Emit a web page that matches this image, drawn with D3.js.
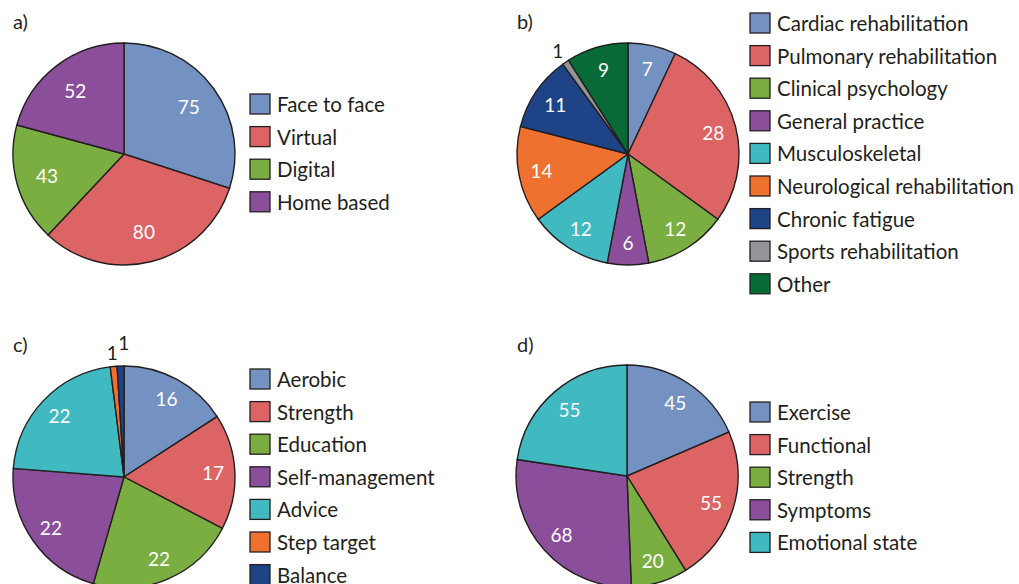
<!DOCTYPE html>
<html lang="en">
<head>
  <meta charset="UTF-8">
  <title>Pie charts a-d</title>
  <script src="https://d3js.org/d3.v7.min.js"></script>
  <style>
    body {
      margin: 0;
      padding: 0;
      background: #fff;
      font-family: Lato, "Noto Sans", sans-serif;
    }
    .slice {
      stroke: #231f20;
      stroke-width: 1.4;
    }
    .val {
      font-size: 19px;
      fill: #fff;
      text-anchor: middle;
      dominant-baseline: central;
    }
    .val.out {
      fill: #231f20;
    }
    .legend text {
      font-size: 20.5px;
      fill: #231f20;
      dominant-baseline: central;
    }
    .panel-label {
      font-size: 20px;
      fill: #231f20;
    }
  </style>
</head>
<body>
  <svg id="chart" width="1019" height="584"></svg>

  <script>
    // panel a) mode of delivery
    const modeLabels = ["Face to face", "Virtual", "Digital", "Home based"];
    const modeValues = [75, 80, 43, 52];

    // panel b) setting
    const settingLabels = ["Cardiac rehabilitation", "Pulmonary rehabilitation", "Clinical psychology",
      "General practice", "Musculoskeletal", "Neurological rehabilitation", "Chronic fatigue",
      "Sports rehabilitation", "Other"];
    const settingValues = [7, 28, 12, 6, 12, 14, 11, 1, 9];

    // panel c) content
    const contentLabels = ["Aerobic", "Strength", "Education", "Self-management", "Advice", "Step target", "Balance"];
    const contentValues = [16, 17, 22, 22, 22, 1, 1];

    // panel d) outcomes
    const outcomeLabels = ["Exercise", "Functional", "Strength", "Symptoms", "Emotional state"];
    const outcomeValues = [45, 55, 20, 68, 55];

    const palette = ["#7391c1", "#dc6464", "#7aae41", "#8b4e9b", "#40b9c1",
      "#ee7130", "#1e4387", "#939598", "#086b37"];

    const panels = [
      { tag: "a)", labels: modeLabels, values: modeValues, cx: 124, cy: 154, lx: 250, ly: 104, labelR: 80, tx: 13, ty: 29 },
      { tag: "b)", labels: settingLabels, values: settingValues, cx: 628, cy: 154, lx: 750, ly: 23, labelR: 88, tx: 517, ty: 29 },
      { tag: "c)", labels: contentLabels, values: contentValues, cx: 124, cy: 477, lx: 250, ly: 379, labelR: 89, tx: 13, ty: 352 },
      { tag: "d)", labels: outcomeLabels, values: outcomeValues, cx: 627, cy: 476, lx: 750, ly: 412, labelR: 88, tx: 517, ty: 352 }
    ];

    const radius = 111;
    const rowStep = 32.6;
    const svg = d3.select("#chart");

    const pie = d3.pie().sort(null).value(d => d);
    const arc = d3.arc().innerRadius(0).outerRadius(radius);
    const color = d3.scaleOrdinal().range(palette);

    panels.forEach(p => {
      color.domain(p.labels.map((d, i) => i));
      const arcs = pie(p.values);
      const g = svg.append("g").attr("transform", `translate(${p.cx},${p.cy})`);

      g.selectAll(".slice")
        .data(arcs)
        .enter().append("path")
        .attr("class", "slice")
        .attr("fill", d => color(d.index))
        .attr("d", arc);

      // small slices get their number outside the pie,
      // neighbouring ones are stepped out so they don't collide
      let outCount = 0;
      arcs.forEach(d => {
        const frac = (d.endAngle - d.startAngle) / (2 * Math.PI);
        const mid = (d.startAngle + d.endAngle) / 2;
        let r = p.labelR;
        let cls = "val";
        let nudge = 0;
        if (frac < 0.03) {
          r = radius + 14 + outCount * 10;
          nudge = outCount * 4;
          cls = "val out";
          outCount++;
        } else {
          outCount = 0;
        }
        g.append("text")
          .attr("class", cls)
          .attr("x", Math.sin(mid) * r + nudge)
          .attr("y", -Math.cos(mid) * r)
          .text(d.data);
      });

      svg.append("text")
        .attr("class", "panel-label")
        .attr("x", p.tx)
        .attr("y", p.ty)
        .text(p.tag);

      const legend = svg.append("g").attr("class", "legend");
      const rows = legend.selectAll("g")
        .data(p.labels)
        .enter().append("g")
        .attr("transform", (d, i) => `translate(${p.lx},${p.ly + i * rowStep})`);
      rows.append("rect")
        .attr("x", 0).attr("y", -10)
        .attr("width", 20).attr("height", 20)
        .attr("fill", (d, i) => color(i))
        .attr("stroke", "#231f20")
        .attr("stroke-width", 1.3);
      rows.append("text")
        .attr("x", 27)
        .attr("y", 0)
        .text(d => d);
    });
  </script>
</body>
</html>
